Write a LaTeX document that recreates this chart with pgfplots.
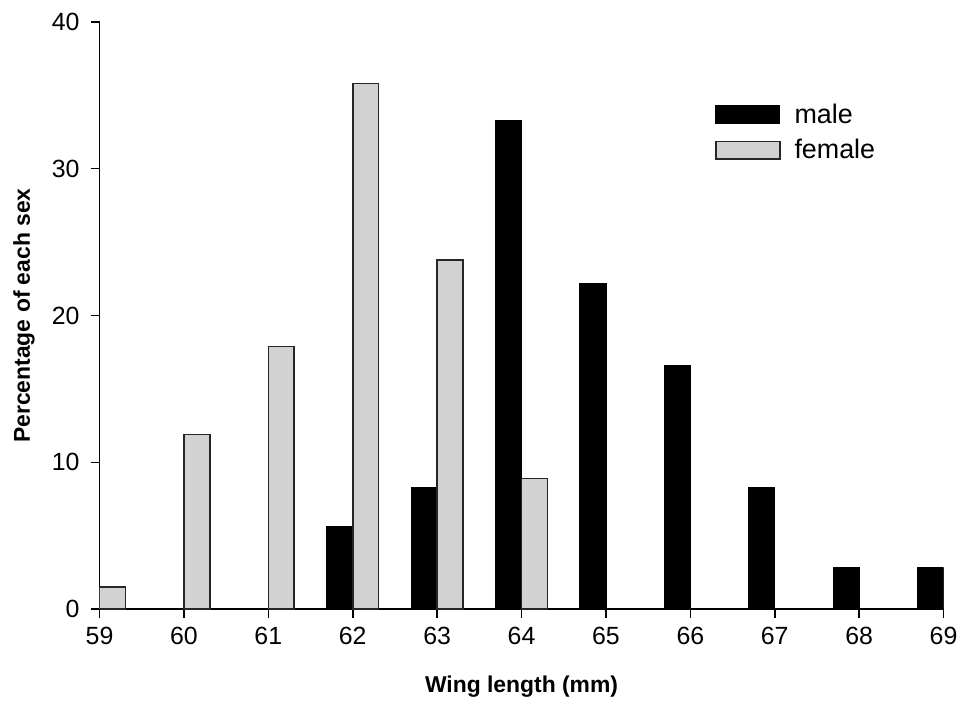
\documentclass[border=0pt]{standalone}
\usepackage{pgfplots}
\pgfplotsset{compat=1.18}
\usepackage{fontspec}
\setmainfont{Liberation Sans}
\definecolor{femgray}{HTML}{D2D2D2}
\begin{document}
\begin{tikzpicture}
\begin{axis}[
  scale only axis,
  width=424pt, height=295pt,
  xmin=59, xmax=69, ymin=0, ymax=40,
  axis x line=bottom, axis y line=left,
  axis line style={-, black, line width=0.8pt},
  xtick={59,...,69}, ytick={0,10,20,30,40},
  tick align=outside, major tick length=4.5pt,
  tick style={black, line width=0.8pt},
  /pgf/number format/assume math mode=true,
  tick label style={font=\fontsize{12.5}{14}\selectfont},
  xticklabel={\fontsize{12.5}{14}\selectfont\pgfmathprintnumber{\tick}},
  yticklabel={\fontsize{12.5}{14}\selectfont\pgfmathprintnumber{\tick}},
  xticklabel style={yshift=-1pt},
  yticklabel style={xshift=-2pt},
  xlabel={\textbf{Wing length (mm)}},
  ylabel={\textbf{Percentage of each sex}},
  every axis x label/.style={at={(axis description cs:0.5,0)}, anchor=center, yshift=-39pt, font=\fontsize{11.5}{13}\selectfont},
  every axis y label/.style={at={(axis description cs:0,0.5)}, anchor=center, rotate=90, yshift=38pt, font=\fontsize{11.5}{13}\selectfont},
  ybar, bar width=13pt,
  legend style={draw=none, fill=none, at={(axis description cs:0.722,0.875)}, anchor=north west,
    font=\fontsize{13.5}{15}\selectfont, row sep=2.5pt},
  legend cell align=left,
  legend image code/.code={\draw[#1] (0pt,-4.5pt) rectangle (32pt,4.5pt); \path (37pt,0pt);},
]
\addplot[ybar, bar shift=-6.5pt, fill=black, draw=black, line width=0.6pt]
  coordinates {(62,5.6) (63,8.3) (64,33.3) (65,22.2) (66,16.6) (67,8.3) (68,2.8) (69,2.8)};
\addlegendentry{male}
\addplot[ybar, bar shift=6.5pt, fill=femgray, draw=black!85, line width=0.8pt]
  coordinates {(59,1.5) (60,11.9) (61,17.9) (62,35.8) (63,23.8) (64,8.9)};
\addlegendentry{female}
\end{axis}
\path[use as bounding box] ([xshift=-50pt,yshift=-46.5pt]current axis.south west) rectangle ([xshift=8pt,yshift=11pt]current axis.north east);
\end{tikzpicture}
\end{document}
